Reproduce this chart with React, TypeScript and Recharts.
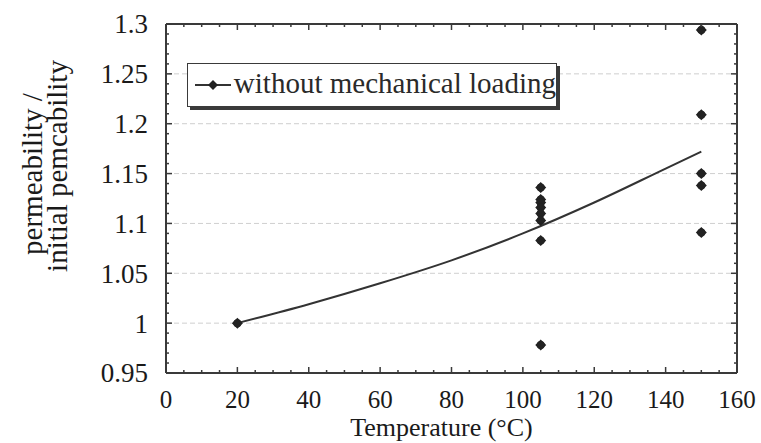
import React from 'react';
import { ComposedChart, Line, Scatter, XAxis, YAxis, ReferenceLine, Legend } from 'recharts';

// fitted curve
const fitTemps = [20, 40, 60, 80, 100, 120, 140, 150];
const fitRatio = [1.0, 1.019, 1.04, 1.063, 1.09, 1.121, 1.155, 1.172];

// measured points
const measTemps = [20, 105, 105, 105, 105, 105, 105, 105, 105, 150, 150, 150, 150, 150];
const measRatio = [1.0, 1.136, 1.124, 1.121, 1.116, 1.11, 1.103, 1.083, 0.978, 1.294, 1.209, 1.15, 1.138, 1.091];

const xTicks = [0, 5, 10, 15, 20, 25, 30, 35, 40, 45, 50, 55, 60, 65, 70, 75, 80, 85, 90, 95, 100, 105, 110, 115, 120, 125, 130, 135, 140, 145, 150, 155, 160];
const yTicks = [0.95, 0.96, 0.97, 0.98, 0.99, 1, 1.01, 1.02, 1.03, 1.04, 1.05, 1.06, 1.07, 1.08, 1.09, 1.1, 1.11, 1.12, 1.13, 1.14, 1.15, 1.16, 1.17, 1.18, 1.19, 1.2, 1.21, 1.22, 1.23, 1.24, 1.25, 1.26, 1.27, 1.28, 1.29, 1.3];
const gridValues = [1, 1.05, 1.1, 1.15, 1.2, 1.25];

const legendLabel = 'without mechanical loading';

const fitData = fitTemps.map((x, i) => ({ x, y: fitRatio[i] }));
const measData = measTemps.map((x, i) => ({ x, y: measRatio[i] }));

const AXIS = '#3a3a3a';
const INK = '#1a1a1a';
const FONT = '"Liberation Serif", "Times New Roman", serif';

const isMajorX = (v: number) => v % 20 === 0;
const isMajorY = (v: number) => Math.round(v * 100) % 5 === 0;

// tick callbacks get the axis-line position because tickSize and tickMargin are 0
const BottomTick = (props: any) => {
  const { x, y, payload } = props;
  const major = isMajorX(payload.value);
  return (
    <g>
      <line x1={x} y1={y} x2={x} y2={y - (major ? 6 : 3)} stroke={AXIS} strokeWidth={1.5} />
      {major && (
        <text x={x} y={y + 35} textAnchor="middle" fontFamily={FONT} fontSize={25} fill={INK}>
          {payload.value}
        </text>
      )}
    </g>
  );
};

const TopTick = (props: any) => {
  const { x, y, payload } = props;
  const major = isMajorX(payload.value);
  return <line x1={x} y1={y} x2={x} y2={y + (major ? 6 : 3)} stroke={AXIS} strokeWidth={1.5} />;
};

const LeftTick = (props: any) => {
  const { x, y, payload } = props;
  const major = isMajorY(payload.value);
  return (
    <g>
      <line x1={x} y1={y} x2={x + (major ? 6 : 3)} y2={y} stroke={AXIS} strokeWidth={1.5} />
      {major && (
        <text x={x - 18} y={y} dy="0.35em" textAnchor="end" fontFamily={FONT} fontSize={27} fill={INK}>
          {String(payload.value)}
        </text>
      )}
    </g>
  );
};

const RightTick = (props: any) => {
  const { x, y, payload } = props;
  const major = isMajorY(payload.value);
  return <line x1={x} y1={y} x2={x - (major ? 6 : 3)} y2={y} stroke={AXIS} strokeWidth={1.5} />;
};

const Marker = (props: any) => {
  const { cx, cy } = props;
  if (cx == null || cy == null) return null;
  const r = 5.5;
  return (
    <g>
      <path d={`M${cx},${cy - r} L${cx + r},${cy} L${cx},${cy + r} L${cx - r},${cy} Z`} fill="#222" />
      <circle cx={cx} cy={cy} r={4} fill="#222" />
    </g>
  );
};

const LegendBox = () => (
  <div
    style={{
      width: 370,
      height: 44,
      boxSizing: 'border-box',
      border: `1.5px solid ${AXIS}`,
      boxShadow: `3px 3px 0 ${AXIS}`,
      background: '#fff',
      display: 'flex',
      alignItems: 'center',
      fontFamily: FONT,
      fontSize: 29,
      color: '#2a2a2a',
      whiteSpace: 'nowrap',
    }}
  >
    <svg width={40} height={20} style={{ marginLeft: 7, marginRight: 1 }}>
      <line x1={0} y1={10} x2={36} y2={10} stroke="#333" strokeWidth={2} />
      <path d="M18,5 L23,10 L18,15 L13,10 Z" fill="#222" />
    </svg>
    <span style={{ position: 'relative', top: -2 }}>{legendLabel}</span>
  </div>
);

const YTitle = () => (
  <g>
    <text transform="translate(42,174) rotate(-90)" textAnchor="middle" fontFamily={FONT} fontSize={29} fill={INK}>
      permeability /
    </text>
    <text transform="translate(67,166) rotate(-90)" textAnchor="middle" fontFamily={FONT} fontSize={29} fill={INK}>
      initial pemcability
    </text>
  </g>
);

export default function App() {
  return (
    <div style={{ position: 'absolute', left: 0, top: 0, width: 761, height: 443, background: '#fff' }}>
      <ComposedChart width={761} height={443} margin={{ top: 23, right: 23, bottom: 69, left: 0 }}>
        <XAxis
          xAxisId={0}
          dataKey="x"
          type="number"
          domain={[0, 160]}
          ticks={xTicks}
          interval={0}
          height={1}
          tickSize={0}
          tickMargin={0}
          tick={<BottomTick />}
          axisLine={{ stroke: AXIS, strokeWidth: 2 }}
          allowDataOverflow
          label={{ value: 'Temperature (°C)', position: 'insideBottom', offset: -62, dx: -10, fontFamily: FONT, fontSize: 26, fill: INK }}
        />
        <XAxis
          xAxisId="top"
          orientation="top"
          dataKey="x"
          type="number"
          domain={[0, 160]}
          ticks={xTicks}
          interval={0}
          height={1}
          tickSize={0}
          tickMargin={0}
          tick={<TopTick />}
          axisLine={{ stroke: AXIS, strokeWidth: 2 }}
          allowDataOverflow
        />
        <YAxis
          yAxisId={0}
          type="number"
          domain={[0.95, 1.3]}
          ticks={yTicks}
          interval={0}
          width={166}
          tickSize={0}
          tickMargin={0}
          tick={<LeftTick />}
          axisLine={{ stroke: AXIS, strokeWidth: 2 }}
          allowDataOverflow
          label={{ content: () => <YTitle /> }}
        />
        <YAxis
          yAxisId="right"
          orientation="right"
          type="number"
          domain={[0.95, 1.3]}
          ticks={yTicks}
          interval={0}
          width={1}
          tickSize={0}
          tickMargin={0}
          tick={<RightTick />}
          axisLine={{ stroke: AXIS, strokeWidth: 2 }}
          allowDataOverflow
        />
        {gridValues.map((v) => (
          <ReferenceLine key={v} y={v} stroke="#cfcfcf" strokeDasharray="5 3" strokeWidth={1} />
        ))}
        <Line
          data={fitData}
          dataKey="y"
          type="monotone"
          stroke="#333"
          strokeWidth={2}
          dot={false}
          activeDot={false}
          isAnimationActive={false}
          name={legendLabel}
        />
        <Scatter data={measData} dataKey="y" shape={<Marker />} isAnimationActive={false} legendType="none" />
        <Legend
          layout="vertical"
          align="center"
          verticalAlign="middle"
          content={() => <LegendBox />}
          wrapperStyle={{ left: 187, top: 63, width: 'auto', height: 'auto' }}
        />
      </ComposedChart>
    </div>
  );
}
